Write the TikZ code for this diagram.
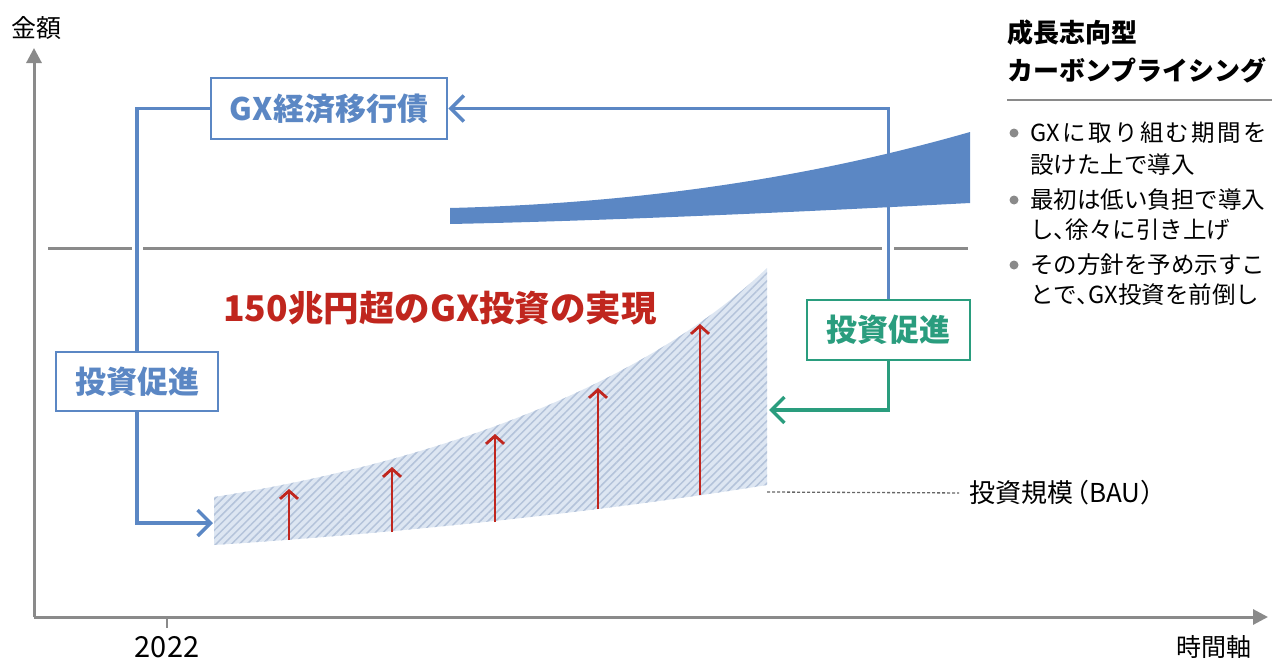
\documentclass[tikz,border=0pt]{standalone}
\usepackage{fontspec}
\setmainfont{Noto Sans CJK JP}
\usetikzlibrary{arrows.meta,patterns.meta}
\definecolor{gxblue}{RGB}{91,135,196}
\definecolor{gxgreen}{RGB}{42,157,126}
\definecolor{gxred}{RGB}{192,38,30}
\definecolor{axisgray}{RGB}{138,138,138}
\definecolor{hatchbg}{RGB}{221,230,242}
\definecolor{hatchline}{RGB}{180,195,218}
\begin{document}
\begin{tikzpicture}[x=1pt,y=-1pt,
  axis/.style={line width=3pt, axisgray, -{Triangle[length=15pt,width=15pt]}},
  txt/.style={inner sep=0pt, font=\fontsize{25pt}{30pt}\selectfont},
  note/.style={inner sep=0pt, anchor=west, font=\fontsize{23.5pt}{28pt}\selectfont},
  box/.style={draw, fill=white, line width=2.8pt, inner sep=0pt, font=\fontsize{31pt}{36pt}\selectfont\bfseries},
  link/.style={line width=3.5pt, -{Straight Barb[length=13pt,width=26pt]}},
  rise/.style={gxred, line width=2.8pt, -{Straight Barb[length=8pt,width=18pt]}}]
\useasboundingbox (0,0) rectangle (1288,659);
% axes
\coordinate (origin) at (34,617);
\coordinate (ytip) at (34,48);
\coordinate (xtip) at (1268,617);
\draw[axis] (origin) -- (ytip);
\draw[axis] (origin) -- (xtip);
\draw[axisgray, line width=2pt] (167,617) -- (167,628);
\node[txt] (amount) at (36,28) {金額};
\node[txt, font=\fontsize{29pt}{34pt}\selectfont] (year) at (167,647) {2022};
\node[txt] (time) at (1214,647) {時間軸};
% investment area (BAU) and its rise
\fill[hatchbg] (214,497) .. controls (450,460) and (650,380) .. (767,268) -- (767,485)
  .. controls (600,512) and (400,533) .. (214,545) -- cycle;
\fill[pattern={Lines[angle=45,distance=5.5pt,line width=1.5pt]}, pattern color=hatchline]
  (214,497) .. controls (450,460) and (650,380) .. (767,268) -- (767,485)
  .. controls (600,512) and (400,533) .. (214,545) -- cycle;
\foreach \x/\a/\b in {289/540/489, 392/532/467, 495/522/434, 598/509/388, 700/495/324}
  \draw[rise] (\x,\a) -- (\x,\b);
% carbon pricing band
\fill[gxblue] (450,208) .. controls (650,203) and (820,175) .. (970,132) -- (970,203)
  .. controls (800,212) and (600,221) .. (450,224) -- cycle;
% threshold line
\draw[axisgray, line width=3pt] (48,248) -- (132,248) (143,248) -- (882,248) (894,248) -- (968,248);
% boxes
\node[box, draw=gxblue, text=gxblue, minimum width=236pt, minimum height=61pt] (gx) at (329,108.5) {GX経済移行債};
\node[box, draw=gxblue, text=gxblue, minimum width=162pt, minimum height=59pt] (invL) at (137,381.5) {投資促進};
\node[box, draw=gxgreen, text=gxgreen, minimum width=163pt, minimum height=60pt] (invR) at (888.5,330) {投資促進};
\coordinate (bauW) at (213,523);
\coordinate (bauE) at (769,410);
\draw[gxblue, line width=3.5pt] (invL.north) |- (gx.west);
\draw[link, gxblue] (invR.north) |- (gx.east);
\draw[link, gxblue] (invL.south) |- (bauW);
\draw[link, gxgreen] (invR.south) |- (bauE);
\node[inner sep=0pt, gxred, font=\fontsize{35.5pt}{40pt}\selectfont\bfseries] (goal) at (440,308) {150兆円超のGX投資の実現};
\coordinate (bauEnd) at (767,492);
\node[txt, anchor=west, font=\fontsize{26pt}{30pt}\selectfont] (bau) at (969,493) {投資規模\makebox[16pt][r]{（}BAU\makebox[16pt][l]{）}};
\draw[black!60, line width=1.3pt, dash pattern=on 3pt off 2pt, shorten >=10pt] (bauEnd) -- (bau.west);
% right panel
\node[note, font=\fontsize{26pt}{30pt}\selectfont\bfseries] (title1) at (1007,33) {成長志向型};
\node[note, font=\fontsize{26pt}{30pt}\selectfont\bfseries] (title2) at (1007,70) {カーボンプライシング};
\draw[axisgray, line width=2pt] (1007,100) -- (1272,100);
\foreach \y in {133,200,265}
  \fill[axisgray] (1014,\y) circle (4.5pt);
\node[note] (n1) at (1030,133) {\makebox[237pt][s]{GX\hfil に\hfil 取\hfil り\hfil 組\hfil む\hfil 期\hfil 間\hfil を}};
\node[note] (n2) at (1030,165) {設けた上で導入};
\node[note] (n3) at (1030,200) {最初は低い負担で導入};
\node[note] (n4) at (1030,230) {し\makebox[12pt][l]{、}徐々に引き上げ};
\node[note] (n5) at (1030,265) {その方針を予め示すこ};
\node[note] (n6) at (1030,295) {とで\makebox[12pt][l]{、}GX投資を前倒し};
\end{tikzpicture}
\end{document}
